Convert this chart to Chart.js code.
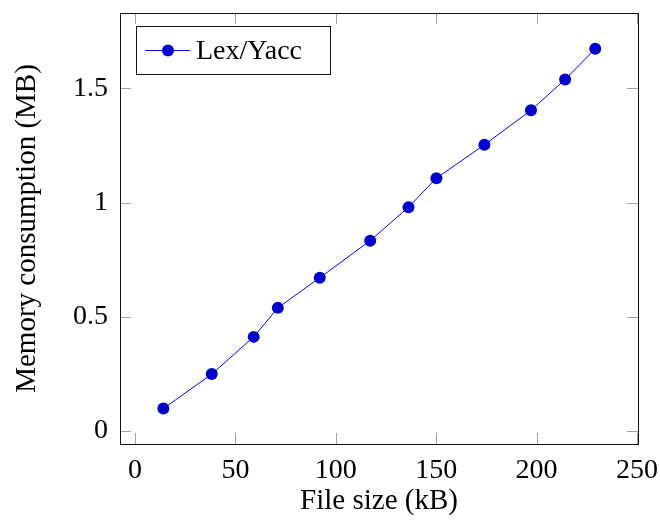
<!DOCTYPE html>
<html>
<head>
<meta charset="utf-8">
<script src="https://cdn.jsdelivr.net/npm/chart.js@4"></script>
<style>
  html, body { margin: 0; padding: 0; background: #fff; }
  #wrap { width: 660px; height: 521px; }
</style>
</head>
<body>
<div id="wrap"><canvas id="myChart" width="660" height="521"></canvas></div>
<script>
// measurements: file size (kB) vs memory (MB)
const fileSizes = [14.1, 38.2, 59.1, 71.1, 92.0, 117.1, 136.2, 150.1, 174.0, 197.2, 214.2, 229.2];
const memoryMB = [0.098, 0.249, 0.412, 0.539, 0.671, 0.833, 0.980, 1.107, 1.253, 1.404, 1.539, 1.673];
const xTicks = [0, 50, 100, 150, 200, 250];
const yTicks = [0, 0.5, 1, 1.5];
const seriesLabel = 'Lex/Yacc';

const serif = "'Liberation Serif', 'DejaVu Serif', serif";
const lineColor = '#0000FF';
const markColor = '#0000CC';

// frame with inward ticks on all four sides + legend box in the corner
const framePlugin = {
    id: 'frame',
    afterDatasetsDraw(chart) {
        const { ctx, chartArea: a, scales } = chart;
        const len = 11;
        ctx.save();
        ctx.strokeStyle = '#a0a0a0';
        ctx.lineWidth = 1;
        xTicks.forEach(v => {
            const x = Math.round(scales.x.getPixelForValue(v)) + 0.5;
            ctx.beginPath();
            ctx.moveTo(x, a.bottom); ctx.lineTo(x, a.bottom - len);
            ctx.moveTo(x, a.top); ctx.lineTo(x, a.top + len);
            ctx.stroke();
        });
        yTicks.forEach(v => {
            const y = Math.round(scales.y.getPixelForValue(v)) + 0.5;
            ctx.beginPath();
            ctx.moveTo(a.left, y); ctx.lineTo(a.left + len, y);
            ctx.moveTo(a.right, y); ctx.lineTo(a.right - len, y);
            ctx.stroke();
        });
        ctx.strokeStyle = '#111';
        ctx.strokeRect(Math.round(a.left) + 0.5, Math.round(a.top) + 0.5,
            Math.round(a.right - a.left), Math.round(a.bottom - a.top));

        // legend
        const bx = a.left + 16, by = a.top + 13, bw = 194, bh = 48;
        ctx.fillStyle = '#fff';
        ctx.fillRect(bx, by, bw, bh);
        ctx.strokeStyle = '#111';
        ctx.strokeRect(bx + 0.5, by + 0.5, bw, bh);
        const cy = by + bh / 2 + 0.5;
        ctx.strokeStyle = lineColor;
        ctx.beginPath();
        ctx.moveTo(bx + 9, cy); ctx.lineTo(bx + 54, cy);
        ctx.stroke();
        ctx.fillStyle = markColor;
        ctx.beginPath();
        ctx.arc(bx + 32, cy, 6, 0, Math.PI * 2);
        ctx.fill();
        ctx.fillStyle = '#000';
        ctx.font = '28px ' + serif;
        ctx.textBaseline = 'middle';
        ctx.textAlign = 'left';
        ctx.fillText(seriesLabel, bx + 60, cy + 1);
        ctx.restore();
    }
};

const ctx = document.getElementById('myChart');
const chart = new Chart(ctx, {
    type: 'line',
    data: {
        datasets: [{
            label: seriesLabel,
            data: fileSizes.map((x, i) => ({ x: x, y: memoryMB[i] })),
            borderColor: lineColor,
            borderWidth: 1,
            backgroundColor: markColor,
            pointBackgroundColor: markColor,
            pointBorderColor: markColor,
            pointBorderWidth: 0,
            pointRadius: 6,
            tension: 0
        }]
    },
    options: {
        responsive: false,
        animation: false,
        devicePixelRatio: 1,
        layout: { padding: { left: 0, right: 22, top: 13, bottom: 0 } },
        plugins: { legend: { display: false }, tooltip: { enabled: false } },
        scales: {
            x: {
                type: 'linear',
                min: -7.5,
                max: 250.5,
                afterBuildTicks: s => { s.ticks = xTicks.map(v => ({ value: v })); },
                afterFit: s => { s.height = 77; s.paddingLeft = 0; s.paddingRight = 0; },
                grid: { display: false, drawTicks: false },
                border: { display: false },
                ticks: { color: '#000', padding: 10, maxRotation: 0, font: { family: serif, size: 28 } },
                title: {
                    display: true, text: 'File size (kB)', color: '#000',
                    font: { family: serif, size: 29 }, padding: { bottom: 2 }
                }
            },
            y: {
                type: 'linear',
                min: -0.057,
                max: 1.83,
                afterBuildTicks: s => { s.ticks = yTicks.map(v => ({ value: v })); },
                afterFit: s => { s.width = 120; s.paddingTop = 0; s.paddingBottom = 0; },
                grid: { display: false, drawTicks: false },
                border: { display: false },
                ticks: {
                    color: '#000', padding: 12, font: { family: serif, size: 28 },
                    callback: v => String(v)
                },
                title: {
                    display: true, text: 'Memory consumption (MB)', color: '#000',
                    font: { family: serif, size: 29 }, padding: { top: 10 }
                }
            }
        }
    },
    plugins: [framePlugin]
});
</script>
</body>
</html>
